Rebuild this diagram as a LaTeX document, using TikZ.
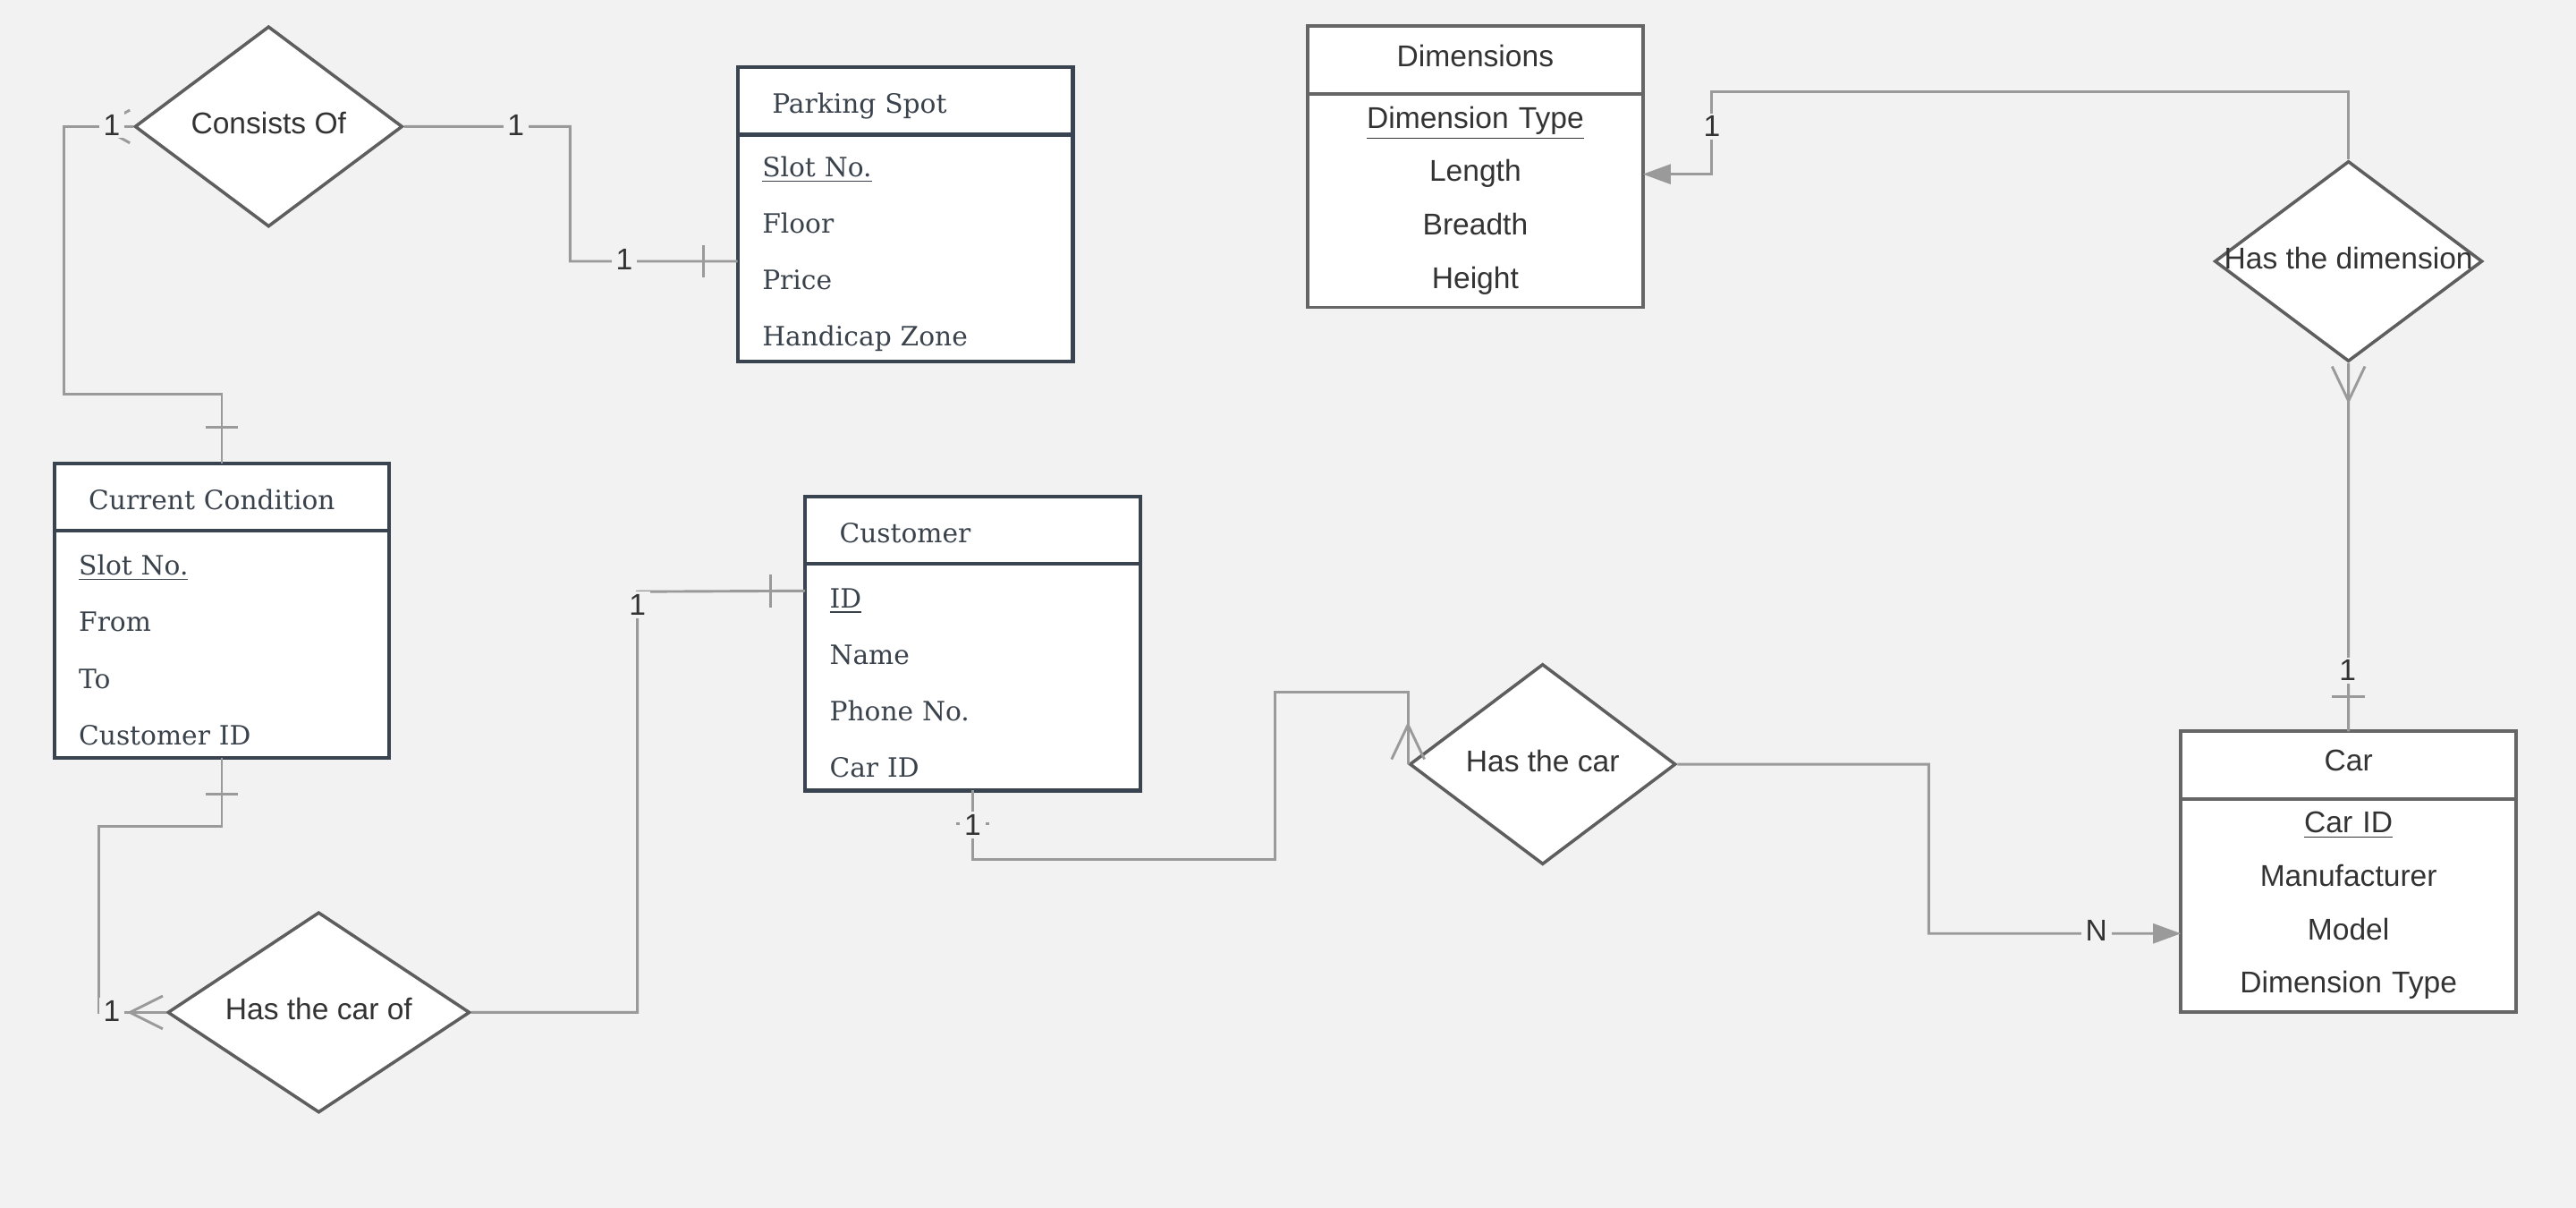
\documentclass[tikz,border=0pt]{standalone}
\usepackage{fontspec}
\newfontfamily\lucsans{Liberation Sans}
\newfontfamily\lucserif{DejaVu Serif}
\usepackage{tikz}
\usetikzlibrary{positioning, shapes.geometric, arrows.meta}

\definecolor{bgc}{HTML}{F2F2F2}
\definecolor{linegray}{HTML}{9A9A9A}
\definecolor{relgray}{HTML}{5E5E5E}
\definecolor{slate}{HTML}{3A4450}
\definecolor{slatetxt}{HTML}{3A424C}
\definecolor{txtdark}{HTML}{333333}
\definecolor{boxgray}{HTML}{666666}

\begin{document}
\begin{tikzpicture}[
    conn/.style={draw=linegray, line width=0.9pt},
    card/.style={fill=bgc, inner xsep=1.5pt, inner ysep=1pt, text=txtdark, font=\lucsans\fontsize{10.4}{12}\selectfont},
    rel/.style={diamond, draw=relgray, fill=white, line width=1.1pt, inner sep=0pt, minimum height=2.44cm, text depth=2.5pt, text=txtdark, font=\lucsans\fontsize{10.4}{12}\selectfont},
    ehead/.style={draw=slate, fill=white, line width=1.3pt, outer sep=0pt, minimum height=0.82cm, inner ysep=0pt, text height=11pt, text depth=2.5pt, text width=3.24cm, inner xsep=0.42cm, align=left, text=slatetxt, font=\lucserif\fontsize{9.2}{11}\selectfont},
    ebody/.style={draw=slate, fill=white, line width=1.3pt, outer sep=0pt, minimum height=2.76cm, inner ysep=0pt, text height=11pt, text width=3.48cm, inner xsep=0.3cm, align=left, text=slatetxt, font=\lucserif\fontsize{9.2}{19.56}\selectfont},
    ghead/.style={draw=boxgray, fill=white, line width=1.2pt, outer sep=0pt, minimum height=0.82cm, inner ysep=0pt, text depth=3pt, text width=3.68cm, inner xsep=0.2cm, align=center, text=txtdark, font=\lucsans\fontsize{10.4}{12}\selectfont},
    gbody/.style={draw=boxgray, fill=white, line width=1.2pt, outer sep=0pt, minimum height=2.60cm, inner ysep=0pt, text width=3.68cm, inner xsep=0.2cm, align=center, text=txtdark, font=\lucsans\fontsize{10.4}{18.5}\selectfont}
]
    \useasboundingbox (0,0) rectangle (31.36,14.7);
    \fill[bgc] (0,0) rectangle (31.36,14.7);

    % relationships
    \node (cons) [rel, minimum width=3.26cm] at (3.27,13.16) {\makebox[0pt]{Consists Of}};
    \node (hasdim) [rel, minimum width=3.26cm] at (28.59,11.52) {\makebox[0pt]{Has the dimension}};
    \node (hascar) [rel, minimum width=3.24cm] at (18.78,5.40) {\makebox[0pt]{Has the car}};
    \node (hascarof) [rel, minimum width=3.68cm] at (3.88,2.38) {\makebox[0pt]{Has the car of}};

    % entities
    \node (pshead) [ehead, anchor=north west] at (8.98,13.88) {Parking Spot};
    \node (psbody) [ebody, below=0pt of pshead] {\underline{Slot No.}\\Floor\\Price\\Handicap Zone};

    \node (dimhead) [ghead, anchor=north west] at (15.92,14.38) {Dimensions};
    \node (dimbody) [gbody, below=0pt of dimhead] {\underline{Dimension Type}\\Length\\Breadth\\Height};

    \node (cchead) [ehead, anchor=north west] at (0.66,9.06) {Current Condition};
    \node (ccbody) [ebody, below=0pt of cchead] {\underline{Slot No.}\\From\\To\\Customer ID};

    \node (cushead) [ehead, anchor=north west] at (9.80,8.66) {Customer};
    \node (cusbody) [ebody, below=0pt of cushead] {\underline{ID}\\Name\\Phone No.\\Car ID};

    \node (carhead) [ghead, anchor=north west] at (26.55,5.80) {Car};
    \node (carbody) [gbody, below=0pt of carhead] {\underline{Car ID}\\Manufacturer\\Model\\Dimension Type};

    % connectors
    \draw[conn] (cons.west) -| (0.78,9.90) -| (cchead.north);
    \draw[conn] (cons.east) -| (6.94,11.52) -- ([yshift=-0.16cm]psbody.west);
    \draw[conn, -{Triangle[length=0.34cm, width=0.24cm]}] (hasdim.north) |- (20.84,13.58) |- ([yshift=0.32cm]dimbody.east);
    \draw[conn] (hasdim.south) -- (carhead.north);
    \draw[conn] (ccbody.south) |- (1.20,4.64) |- (hascarof.west);
    \draw[conn] (hascarof.east) -| (7.76,7.50) -- ([yshift=1.05cm]cusbody.west);
    \draw[conn] (cusbody.south) |- (15.52,4.24) -- (15.52,6.28) -| (hascar.west);
    \draw[conn, -{Triangle[length=0.34cm, width=0.24cm]}] (hascar.east) -| (23.48,3.34) -- ([yshift=-0.34cm]carbody.west);

    % crow's feet
    \draw[conn] ([xshift=-0.04cm,yshift=0.2cm]cons.west) -- ([xshift=-0.4cm]cons.west) -- ([xshift=-0.04cm,yshift=-0.2cm]cons.west);
    \draw[conn] ([xshift=-0.2cm,yshift=-0.04cm]hasdim.south) -- ([yshift=-0.46cm]hasdim.south) -- ([xshift=0.2cm,yshift=-0.04cm]hasdim.south);
    \draw[conn] ([xshift=-0.04cm,yshift=0.2cm]hascarof.west) -- ([xshift=-0.44cm]hascarof.west) -- ([xshift=-0.04cm,yshift=-0.2cm]hascarof.west);
    \draw[conn] ([xshift=-0.2cm,yshift=0.06cm]hascar.west) -- ([yshift=0.48cm]hascar.west) -- ([xshift=0.2cm,yshift=0.06cm]hascar.west);

    % bars
    \draw[conn] ([xshift=-0.2cm,yshift=0.44cm]cchead.north) -- ++(0.4,0);
    \draw[conn] ([xshift=-0.42cm,yshift=-0.36cm]psbody.west) -- ++(0,0.4);
    \draw[conn] ([xshift=-0.2cm,yshift=0.42cm]carhead.north) -- ++(0.4,0);
    \draw[conn] ([xshift=-0.2cm,yshift=-0.44cm]ccbody.south) -- ++(0.4,0);
    \draw[conn] ([xshift=-0.42cm,yshift=0.85cm]cusbody.west) -- ++(0,0.4);
    \draw[conn] ([xshift=-0.2cm,yshift=-0.40cm]cusbody.south) -- ++(0.4,0);

    % cardinalities
    \node (l1) [card] at (1.36,13.18) {1};
    \node (l2) [card] at (6.28,13.18) {1};
    \node (l3) [card] at (7.60,11.54) {1};
    \node (l4) [card] at (20.84,13.16) {1};
    \node (l5) [card] at (28.58,6.54) {1};
    \node (l6) [card] at (1.36,2.40) {1};
    \node (l7) [card] at (7.76,7.34) {1};
    \node (l8) [card] at (11.84,4.66) {1};
    \node (l9) [card] at (25.52,3.38) {N};
\end{tikzpicture}
\end{document}
